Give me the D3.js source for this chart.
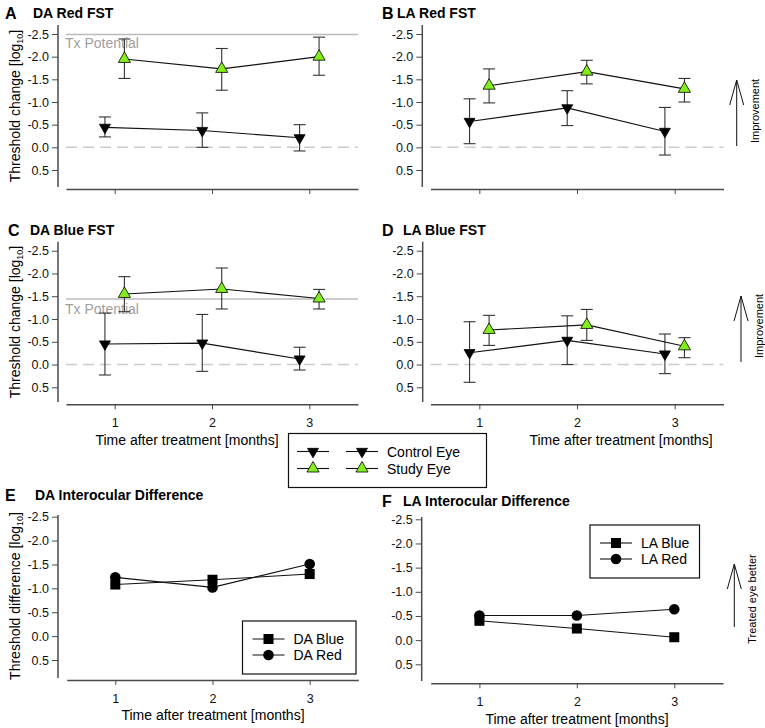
<!DOCTYPE html>
<html>
<head>
<meta charset="utf-8">
<script src="https://cdn.jsdelivr.net/npm/d3@7"></script>
<style>
  body { margin: 0; background: #fff; }
  text { font-family: Arial, "Liberation Sans", sans-serif; }
</style>
</head>
<body>
<script>
//months and y ticks shared by all panels
var months = [1, 2, 3];
var yTicks = [-2.5, -2.0, -1.5, -1.0, -0.5, 0.0, 0.5];

//A  DA Red FST  (hi = top of error bar, lo = bottom)
var daRedControl   = [-0.44, -0.37, -0.21];
var daRedControlHi = [-0.67, -0.76, -0.50];
var daRedControlLo = [-0.23,  0.00,  0.08];
var daRedStudy     = [-1.95, -1.73, -2.00];
var daRedStudyHi   = [-2.39, -2.18, -2.43];
var daRedStudyLo   = [-1.52, -1.26, -1.59];
var daRedTx = -2.49;

//B  LA Red FST
var laRedControl   = [-0.57, -0.87, -0.35];
var laRedControlHi = [-1.07, -1.25, -0.88];
var laRedControlLo = [-0.08, -0.48,  0.17];
var laRedStudy     = [-1.36, -1.67, -1.29];
var laRedStudyHi   = [-1.73, -1.92, -1.52];
var laRedStudyLo   = [-0.98, -1.40, -1.00];

//C  DA Blue FST
var daBlueControl   = [-0.45, -0.47, -0.12];
var daBlueControlHi = [-1.13, -1.10, -0.38];
var daBlueControlLo = [ 0.23,  0.15,  0.12];
var daBlueStudy     = [-1.55, -1.66, -1.45];
var daBlueStudyHi   = [-1.93, -2.12, -1.65];
var daBlueStudyLo   = [-1.16, -1.22, -1.22];
var daBlueTx = -1.44;

//D  LA Blue FST
var laBlueControl   = [-0.26, -0.53, -0.23];
var laBlueControlHi = [-0.94, -1.07, -0.67];
var laBlueControlLo = [ 0.39,  0.00,  0.20];
var laBlueStudy     = [-0.76, -0.87, -0.40];
var laBlueStudyHi   = [-1.08, -1.21, -0.59];
var laBlueStudyLo   = [-0.42, -0.53, -0.15];

//E / F  interocular differences
var daBlueDiff = [-1.08, -1.18, -1.30];
var daRedDiff  = [-1.23, -1.02, -1.51];
var laBlueDiff = [-0.40, -0.24, -0.06];
var laRedDiff  = [-0.51, -0.51, -0.64];

var green = "#84ee1c";
var axisColor = "#4a4a4a";

var svg = d3.select("body")
    .append("svg")
    .attr("width", 765)
    .attr("height", 728);

svg.append("rect").attr("width", 765).attr("height", 728).attr("fill", "#fff");

var upTri = d3.symbol().type(d3.symbolTriangle).size(64);
var downTri = d3.symbol().type(d3.symbolTriangle).size(52);

//build one panel: axes + scales, returns {x, y, g}
function makePanel(p){
    var x = d3.scaleLinear().domain([0.5, 3.5]).range(p.xr);
    var y = d3.scaleLinear().domain([-2.5, 0.5]).range([p.y25, p.y05]);
    var g = svg.append("g");

    //y axis (detached line drawn separately)
    var yAxis = g.append("g")
        .attr("transform", "translate(" + p.ax + ",0)")
        .call(d3.axisLeft(y).tickValues(yTicks).tickSize(6).tickPadding(3)
            .tickFormat(function(d){ return d.toFixed(1); }));
    yAxis.select(".domain").remove();
    yAxis.selectAll("line").attr("stroke", axisColor);
    yAxis.selectAll("text").attr("font-size", 12.5).attr("fill", "#111")
        .attr("font-family", "Arial, 'Liberation Sans', sans-serif");
    g.append("line")
        .attr("x1", p.ax).attr("x2", p.ax)
        .attr("y1", p.yLine[0]).attr("y2", p.yLine[1])
        .attr("stroke", axisColor).attr("stroke-width", 1.5);

    //x axis
    var xAxis = g.append("g")
        .attr("transform", "translate(0," + p.xy + ")")
        .call(d3.axisBottom(x).tickValues(months).tickSize(5).tickSizeOuter(0).tickPadding(9)
            .tickFormat(p.xLabels ? d3.format("d") : ""));
    xAxis.select(".domain").attr("stroke", axisColor).attr("stroke-width", 1.5);
    xAxis.selectAll("line").attr("stroke", axisColor);
    xAxis.selectAll("text").attr("font-size", 12.5).attr("fill", "#111")
        .attr("font-family", "Arial, 'Liberation Sans', sans-serif");

    //panel letter and title
    g.append("text").attr("x", p.letter[0]).attr("y", p.letter[1])
        .attr("font-size", 16).attr("font-weight", "bold").text(p.letterText);
    g.append("text").attr("x", p.title[0]).attr("y", p.title[1])
        .attr("font-size", 14).attr("font-weight", "bold").text(p.titleText);

    //y label
    if (p.yLabel) {
        var t = g.append("text")
            .attr("transform", "translate(" + p.yLabel[0] + "," + p.yLabel[1] + ") rotate(-90)")
            .attr("text-anchor", "middle")
            .attr("font-size", 14);
        t.append("tspan").text(p.yLabelText + " [log");
        t.append("tspan").attr("font-size", 9).attr("dy", 3).text("10");
        t.append("tspan").attr("dy", -3).text("]");
    }

    //x label
    if (p.xLabel) {
        g.append("text").attr("x", p.xLabel[0]).attr("y", p.xLabel[1])
            .attr("text-anchor", "middle").attr("font-size", 14)
            .text("Time after treatment [months]");
    }
    return {x: x, y: y, g: g, p: p};
}

//zero reference line, optional Tx potential line
function refLines(P, tx, txTextY){
    P.g.append("line")
        .attr("x1", P.p.xr[0]).attr("x2", P.p.xr[1])
        .attr("y1", P.y(0)).attr("y2", P.y(0))
        .attr("stroke", "#cccccc").attr("stroke-width", 1.5)
        .attr("stroke-dasharray", "11,6");
    if (tx !== undefined) {
        P.g.append("line")
            .attr("x1", P.p.xr[0]).attr("x2", P.p.xr[1])
            .attr("y1", P.y(tx)).attr("y2", P.y(tx))
            .attr("stroke", "#bbbbbb").attr("stroke-width", 1.5);
        P.g.append("text").attr("x", P.p.xr[0] - 1).attr("y", txTextY)
            .attr("font-size", 14).attr("fill", "#a0a0a0").text("Tx Potential");
    }
}

//series with error bars
function errSeries(P, vals, hi, lo, offset, kind){
    var pts = months.map(function(m, i){
        return {x: m + offset, v: vals[i], hi: hi[i], lo: lo[i]};
    });
    var line = d3.line().x(function(d){ return P.x(d.x); }).y(function(d){ return P.y(d.v); });
    P.g.append("path").datum(pts).attr("d", line)
        .attr("fill", "none").attr("stroke", "#111").attr("stroke-width", 1.1);

    var eb = P.g.selectAll(null).data(pts).enter().append("g");
    eb.append("line")
        .attr("x1", function(d){ return P.x(d.x); }).attr("x2", function(d){ return P.x(d.x); })
        .attr("y1", function(d){ return P.y(d.hi); }).attr("y2", function(d){ return P.y(d.lo); })
        .attr("stroke", "#333").attr("stroke-width", 1.1);
    [ "hi", "lo" ].forEach(function(k){
        eb.append("line")
            .attr("x1", function(d){ return P.x(d.x) - 6; }).attr("x2", function(d){ return P.x(d.x) + 6; })
            .attr("y1", function(d){ return P.y(d[k]); }).attr("y2", function(d){ return P.y(d[k]); })
            .attr("stroke", "#333").attr("stroke-width", 1.1);
    });

    P.g.selectAll(null).data(pts).enter().append("path")
        .attr("d", kind === "up" ? upTri : downTri)
        .attr("transform", function(d){
            return "translate(" + P.x(d.x) + "," + P.y(d.v) + ")" + (kind === "up" ? "" : " rotate(180)");
        })
        .attr("fill", kind === "up" ? green : "#000")
        .attr("stroke", "#000").attr("stroke-width", 0.8);
}

//plain series (squares / circles)
function diffSeries(P, vals, kind){
    var pts = months.map(function(m, i){ return {x: m, v: vals[i]}; });
    var line = d3.line().x(function(d){ return P.x(d.x); }).y(function(d){ return P.y(d.v); });
    P.g.append("path").datum(pts).attr("d", line)
        .attr("fill", "none").attr("stroke", "#111").attr("stroke-width", 1.1);
    if (kind === "square") {
        P.g.selectAll(null).data(pts).enter().append("rect")
            .attr("x", function(d){ return P.x(d.x) - 5; })
            .attr("y", function(d){ return P.y(d.v) - 5; })
            .attr("width", 10).attr("height", 10).attr("fill", "#000");
    } else {
        P.g.selectAll(null).data(pts).enter().append("circle")
            .attr("cx", function(d){ return P.x(d.x); })
            .attr("cy", function(d){ return P.y(d.v); })
            .attr("r", 5.3).attr("fill", "#000");
    }
}

//upward arrow with rotated caption
function arrow(x, y1, y2, label, tx, ty){
    svg.append("line").attr("x1", x).attr("x2", x).attr("y1", y1).attr("y2", y2)
        .attr("stroke", "#111").attr("stroke-width", 1);
    svg.append("path")
        .attr("d", "M" + (x - 7) + "," + (y2 + 25) + "L" + x + "," + y2 + "L" + (x + 7) + "," + (y2 + 25))
        .attr("fill", "none").attr("stroke", "#111").attr("stroke-width", 1);
    svg.append("text")
        .attr("transform", "translate(" + tx + "," + ty + ") rotate(-90)")
        .attr("text-anchor", "middle").attr("font-size", 11).text(label);
}

//---- panel A
var A = makePanel({xr: [66, 358], y25: 34, y05: 170, ax: 58, yLine: [25, 187], xy: 189,
    letter: [5, 19], letterText: "A", title: [33, 18], titleText: "DA Red FST",
    yLabel: [20, 106], yLabelText: "Threshold change"});
refLines(A, daRedTx, 48);
errSeries(A, daRedControl, daRedControlHi, daRedControlLo, -0.1, "down");
errSeries(A, daRedStudy, daRedStudyHi, daRedStudyLo, 0.1, "up");

//---- panel B
var B = makePanel({xr: [430.5, 723.5], y25: 34, y05: 170, ax: 422.3, yLine: [25, 187], xy: 189,
    letter: [382, 19], letterText: "B", title: [397, 18], titleText: "LA Red FST"});
refLines(B);
errSeries(B, laRedControl, laRedControlHi, laRedControlLo, -0.1, "down");
errSeries(B, laRedStudy, laRedStudyHi, laRedStudyLo, 0.1, "up");
arrow(736.7, 146, 80, "Improvement", 759, 111);

//---- panel C
var C = makePanel({xr: [66, 358], y25: 250.7, y05: 387.3, ax: 58, yLine: [241.7, 402], xy: 404.3,
    letter: [8, 236], letterText: "C", title: [30, 235], titleText: "DA Blue FST",
    yLabel: [20, 322], yLabelText: "Threshold change", xLabels: true, xLabel: [187, 445]});
refLines(C, daBlueTx, 314);
errSeries(C, daBlueControl, daBlueControlHi, daBlueControlLo, -0.1, "down");
errSeries(C, daBlueStudy, daBlueStudyHi, daBlueStudyLo, 0.1, "up");

//---- panel D
var D = makePanel({xr: [430.5, 723.5], y25: 250.7, y05: 387.3, ax: 422.7, yLine: [241.7, 402], xy: 404.3,
    letter: [382, 236], letterText: "D", title: [403, 235], titleText: "LA Blue FST",
    xLabels: true, xLabel: [621, 445]});
refLines(D);
errSeries(D, laBlueControl, laBlueControlHi, laBlueControlLo, -0.1, "down");
errSeries(D, laBlueStudy, laBlueStudyHi, laBlueStudyLo, 0.1, "up");
arrow(741, 362, 296, "Improvement", 763, 326);

//---- panel E
var E = makePanel({xr: [66.7, 358.3], y25: 516.7, y05: 660, ax: 58, yLine: [515, 678], xy: 680,
    letter: [5, 501], letterText: "E", title: [35, 500], titleText: "DA Interocular Difference",
    yLabel: [20, 596], yLabelText: "Threshold difference", xLabels: true, xLabel: [213, 720]});
diffSeries(E, daBlueDiff, "square");
diffSeries(E, daRedDiff, "circle");

//---- panel F
var F = makePanel({xr: [430.7, 723], y25: 519.3, y05: 664.3, ax: 421.7, yLine: [517, 681], xy: 683.3,
    letter: [382, 507], letterText: "F", title: [403, 506], titleText: "LA Interocular Difference",
    xLabels: true, xLabel: [577, 724]});
diffSeries(F, laBlueDiff, "square");
diffSeries(F, laRedDiff, "circle");
arrow(734.3, 627, 564, "Treated eye better", 756, 599);

//---- legends
function legendBox(x, y, w, h){
    svg.append("rect").attr("x", x).attr("y", y).attr("width", w).attr("height", h)
        .attr("fill", "#fff").attr("stroke", "#111").attr("stroke-width", 1.2);
}

//main legend (control / study)
legendBox(288.5, 433.5, 198, 54);
var legRows = [{label: "Control Eye", kind: "down", y: 451.5}, {label: "Study Eye", kind: "up", y: 468.5}];
[313, 362].forEach(function(cx){
    legRows.forEach(function(r){
        svg.append("line").attr("x1", cx - 16).attr("x2", cx + 16).attr("y1", r.y).attr("y2", r.y)
            .attr("stroke", "#111").attr("stroke-width", 1.1);
        svg.append("path").attr("d", r.kind === "up" ? upTri : downTri)
            .attr("transform", "translate(" + cx + "," + r.y + ")" + (r.kind === "up" ? "" : " rotate(180)"))
            .attr("fill", r.kind === "up" ? green : "#000")
            .attr("stroke", "#000").attr("stroke-width", 0.8);
    });
});
legRows.forEach(function(r){
    svg.append("text").attr("x", 387).attr("y", r.y + 5).attr("font-size", 14).text(r.label);
});

//difference legends
function diffLegend(x, y, labels){
    legendBox(x, y, labels.w, 53);
    [{t: labels.blue, k: "square", dy: 18}, {t: labels.red, k: "circle", dy: 34}].forEach(function(r){
        var yy = y + r.dy, cx = x + 26;
        svg.append("line").attr("x1", cx - 16).attr("x2", cx + 16).attr("y1", yy).attr("y2", yy)
            .attr("stroke", "#111").attr("stroke-width", 1.1);
        if (r.k === "square") {
            svg.append("rect").attr("x", cx - 5).attr("y", yy - 5).attr("width", 10).attr("height", 10).attr("fill", "#000");
        } else {
            svg.append("circle").attr("cx", cx).attr("cy", yy).attr("r", 5.3).attr("fill", "#000");
        }
        svg.append("text").attr("x", x + 51).attr("y", yy + 5).attr("font-size", 14).text(r.t);
    });
}
diffLegend(242.5, 621, {w: 113.5, blue: "DA Blue", red: "DA Red"});
diffLegend(590, 525, {w: 109.5, blue: "LA Blue", red: "LA Red"});
</script>
</body>
</html>
